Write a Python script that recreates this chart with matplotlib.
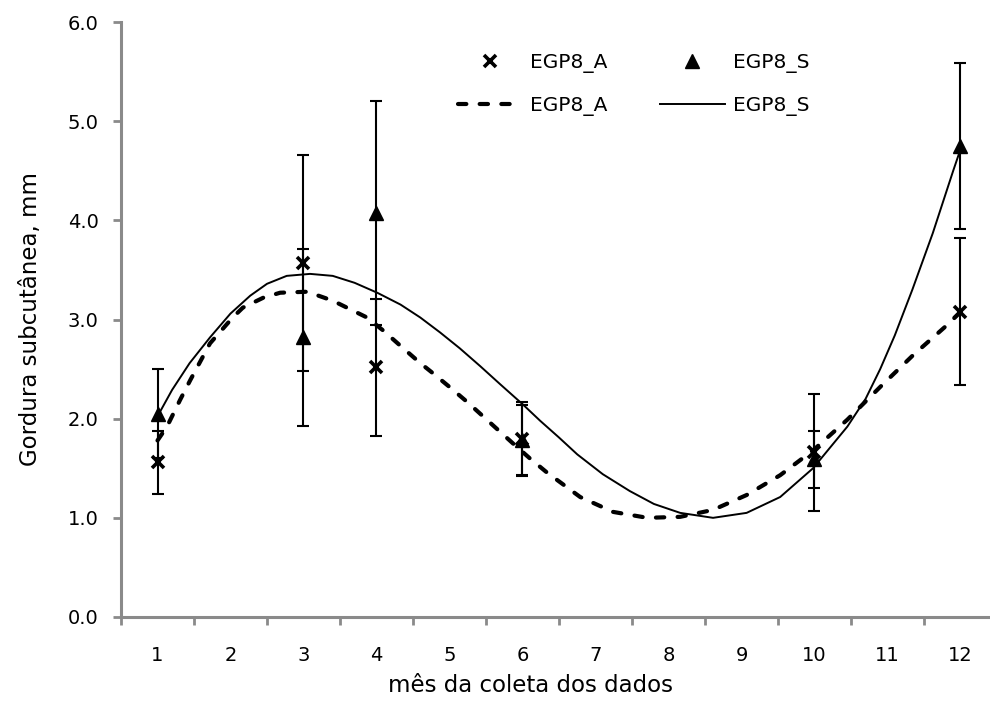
import matplotlib
matplotlib.use("Agg")
import matplotlib.pyplot as plt

# months (categories) and means / standard deviations
months = ["1", "2", "3", "4", "5", "6", "7", "8", "9", "10", "11", "12"]
x_obs = [1, 3, 4, 6, 10, 12]

a_mean = [1.56, 3.57, 2.52, 1.80, 1.66, 3.08]
a_err = [0.32, 1.09, 0.69, 0.37, 0.59, 0.74]

s_mean = [2.05, 2.82, 4.07, 1.78, 1.59, 4.75]
s_err = [0.45, 0.89, 1.13, 0.36, 0.29, 0.84]

# polynomial trend lines
a_fit_x = [1.00, 1.13, 1.31, 1.45, 1.72, 2.03, 2.17, 2.45, 2.68, 3.05, 3.40, 3.87,
           4.09, 4.32, 4.60, 4.77, 5.00, 5.24, 5.42, 5.60, 5.87, 6.10, 6.33, 6.79,
           7.24, 7.71, 8.16, 8.61, 9.07, 9.53, 9.98, 10.45, 10.90, 11.35, 11.81, 12.02]
a_fit_y = [1.78, 1.92, 2.19, 2.39, 2.76, 3.02, 3.12, 3.22, 3.27, 3.28, 3.19, 3.02,
           2.89, 2.74, 2.56, 2.46, 2.32, 2.17, 2.05, 1.93, 1.75, 1.60, 1.46, 1.21,
           1.06, 1.00, 1.01, 1.08, 1.23, 1.43, 1.68, 1.99, 2.32, 2.64, 2.94, 3.09]

s_fit_x = [1.02, 1.20, 1.44, 1.72, 2.00, 2.27, 2.50, 2.77, 3.09, 3.40, 3.70, 4.01,
           4.33, 4.60, 4.87, 5.14, 5.42, 5.69, 6.01, 6.24, 6.50, 6.75, 7.10, 7.47,
           7.80, 8.16, 8.61, 9.07, 9.53, 9.98, 10.45, 10.70, 10.90, 11.10, 11.34,
           11.62, 11.90, 12.02]
s_fit_y = [2.05, 2.29, 2.56, 2.82, 3.06, 3.24, 3.36, 3.44, 3.46, 3.44, 3.37, 3.27,
           3.15, 3.02, 2.87, 2.71, 2.53, 2.35, 2.14, 1.98, 1.81, 1.64, 1.44, 1.27,
           1.14, 1.05, 1.00, 1.05, 1.21, 1.50, 1.92, 2.20, 2.50, 2.84, 3.30,
           3.87, 4.50, 4.76]

grey = "#8a8a8a"

fig = plt.figure(figsize=(9.9, 7.06), dpi=100)
ax = fig.add_axes([121 / 990, 89 / 706, 876 / 990, 595 / 706])

# error bars (drawn without legend entry)
ax.errorbar(x_obs, a_mean, yerr=a_err, fmt="none", ecolor="black",
            elinewidth=1.5, capsize=4.5, capthick=1.5, zorder=2)
ax.errorbar(x_obs, s_mean, yerr=s_err, fmt="none", ecolor="black",
            elinewidth=1.5, capsize=4.5, capthick=1.5, zorder=2)

mA, = ax.plot(x_obs, a_mean, linestyle="none", marker="x", color="black",
              markersize=8, markeredgewidth=2.6, label="EGP8_A", zorder=4)
mS, = ax.plot(x_obs, s_mean, linestyle="none", marker="^", color="black",
              markersize=9.5, label="EGP8_S", zorder=4)

cA, = ax.plot(a_fit_x, a_fit_y, color="black", linewidth=3.0,
              linestyle=(0, (2.0, 3.2)), dash_capstyle="round",
              label="EGP8_A", zorder=3)
cS, = ax.plot(s_fit_x, s_fit_y, color="black", linewidth=1.4,
              label="EGP8_S", zorder=3)

ax.set_xlim(0.5, 12.5)
ax.set_ylim(0, 6)

# category axis: tick marks between categories, labels in the middle
ax.set_xticks([i + 0.5 for i in range(0, 13)])
ax.set_xticklabels([])
ax.set_xticks(range(1, 13), minor=True)
ax.set_xticklabels(months, minor=True)
ax.tick_params(axis="x", which="major", direction="out", length=6,
               width=2, color=grey)
ax.tick_params(axis="x", which="minor", length=0, pad=21, labelsize=14)

ax.set_yticks(range(0, 7))
ax.set_yticklabels(["%.1f" % v for v in range(0, 7)])
ax.tick_params(axis="y", direction="out", length=6, width=2, color=grey,
               pad=10, labelsize=14)

for side in ["top", "right"]:
    ax.spines[side].set_visible(False)
for side in ["left", "bottom"]:
    ax.spines[side].set_color(grey)
    ax.spines[side].set_linewidth(2.2)
ax.spines["bottom"].set_zorder(1)

ax.set_xlabel("mês da coleta dos dados", fontsize=16.5)
ax.xaxis.set_label_coords((531 - 121) / 876, (617 - 686) / 595)
ax.xaxis.label.set_va("center")
ax.set_ylabel("Gordura subcutânea, mm", fontsize=16.5)
ax.yaxis.set_label_coords((30 - 121) / 876, 0.5)
ax.yaxis.label.set_va("center")

ax.legend([mA, cA, mS, cS], ["EGP8_A", "EGP8_A", "EGP8_S", "EGP8_S"],
          ncol=2, frameon=False, fontsize=14.5, loc="upper left",
          bbox_to_anchor=(458 / 990, 1 - 53 / 706),
          bbox_transform=fig.transFigure, borderpad=0, borderaxespad=0,
          handlelength=3.2, handletextpad=0.4, columnspacing=2.6,
          labelspacing=1.15)

fig.savefig("out.png", dpi=100)
